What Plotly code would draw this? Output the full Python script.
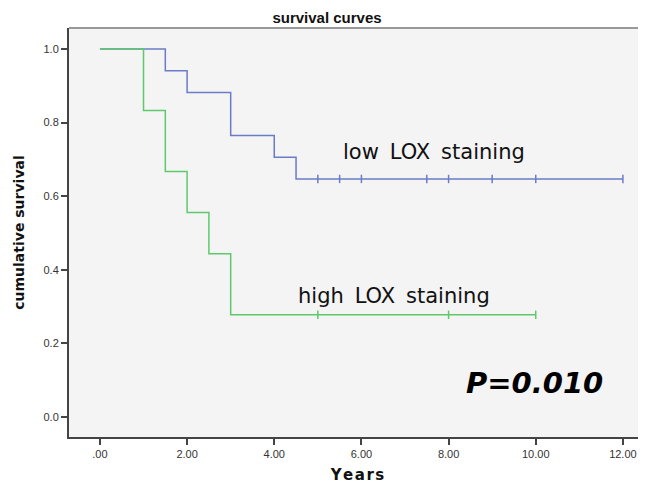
import plotly.graph_objects as go

# Kaplan-Meier step data
low_times = [0, 1.5, 2, 3, 4, 4.5, 12]
low_surv = [1.0, 0.941, 0.882, 0.765, 0.706, 0.647, 0.647]
low_censor_times = [5, 5.5, 6, 7.5, 8, 9, 10, 12]
low_censor_surv = [0.647] * 8

high_times = [0, 1, 1.5, 2, 2.5, 3, 10]
high_surv = [1.0, 0.833, 0.667, 0.556, 0.444, 0.278, 0.278]
high_censor_times = [5, 8, 10]
high_censor_surv = [0.278] * 3

x_ticks = [0, 2, 4, 6, 8, 10, 12]
x_tick_labels = [".00", "2.00", "4.00", "6.00", "8.00", "10.00", "12.00"]
y_ticks = [0, 0.2, 0.4, 0.6, 0.8, 1.0]
y_tick_labels = ["0.0", "0.2", "0.4", "0.6", "0.8", "1.0"]

BLUE = "#6a7cc6"
GREEN = "#5ec96b"

fig = go.Figure()
fig.add_trace(go.Scatter(x=low_times, y=low_surv, mode="lines", line=dict(color=BLUE, width=1.5, shape="hv"),
                         showlegend=False, hoverinfo="skip"))
fig.add_trace(go.Scatter(x=high_times, y=high_surv, mode="lines", line=dict(color=GREEN, width=1.5, shape="hv"),
                         showlegend=False, hoverinfo="skip"))
fig.add_trace(go.Scatter(x=low_censor_times, y=low_censor_surv, mode="markers",
                         marker=dict(symbol="line-ns-open", size=6, color=BLUE, line=dict(color=BLUE, width=1.5)),
                         showlegend=False, hoverinfo="skip"))
fig.add_trace(go.Scatter(x=high_censor_times, y=high_censor_surv, mode="markers",
                         marker=dict(symbol="line-ns-open", size=6, color=GREEN, line=dict(color=GREEN, width=1.5)),
                         showlegend=False, hoverinfo="skip"))

fig.add_annotation(x=7.66, y=0.72, text="low\u2009 LOX\u2009 staining", showarrow=False,
                   font=dict(family="DejaVu Sans, sans-serif", size=21, color="#111111"))
fig.add_annotation(x=6.74, y=0.33, text="high\u2009 LOX\u2009 staining", showarrow=False,
                   font=dict(family="DejaVu Sans, sans-serif", size=21, color="#111111"))
fig.add_annotation(x=9.98, y=0.092, text="<b><i>P=0.010</i></b>", showarrow=False,
                   font=dict(family="DejaVu Sans, sans-serif", size=29, color="#000000"))

# page body has an 8px margin, so the figure is drawn 8px smaller than the window
fig.update_layout(
    width=638, height=480,
    margin=dict(l=61, r=0, t=20, b=51),
    paper_bgcolor="white",
    plot_bgcolor="#f4f4f4",
    title=dict(text="<b>survival curves</b>", x=0.5, xanchor="center", y=0.979, yanchor="middle",
               font=dict(family="Liberation Sans, Arial, sans-serif", size=15, color="#111111")),
    xaxis=dict(range=[-0.71, 12.53], tickvals=x_ticks, ticktext=x_tick_labels,
               showgrid=False, zeroline=False, showline=True, linecolor="#444444", linewidth=2,
               ticks="outside", ticklen=6, tickwidth=1.5, tickcolor="#444444",
               tickfont=dict(family="Liberation Sans, Arial, sans-serif", size=11, color="#333333"),
               title=dict(text="<b>Y e a r s</b>".replace(" ", "\u200a"), standoff=10,
                          font=dict(family="DejaVu Sans, sans-serif", size=15, color="#111111"))),
    yaxis=dict(range=[-0.054, 1.057], tickvals=y_ticks, ticktext=y_tick_labels,
               showgrid=False, zeroline=False, showline=True, linecolor="#444444", linewidth=2,
               ticks="outside", ticklen=6, tickwidth=1.5, tickcolor="#444444",
               tickfont=dict(family="Liberation Sans, Arial, sans-serif", size=11, color="#333333"),
               title=dict(text="<b>cumulative survival</b>", standoff=16,
                          font=dict(family="DejaVu Sans, sans-serif", size=14, color="#111111"))),
    shapes=[dict(type="line", xref="paper", yref="paper", x0=0, x1=1, y0=1, y1=1,
                 line=dict(color="#999999", width=2))],
)

fig.write_html("out.html")
